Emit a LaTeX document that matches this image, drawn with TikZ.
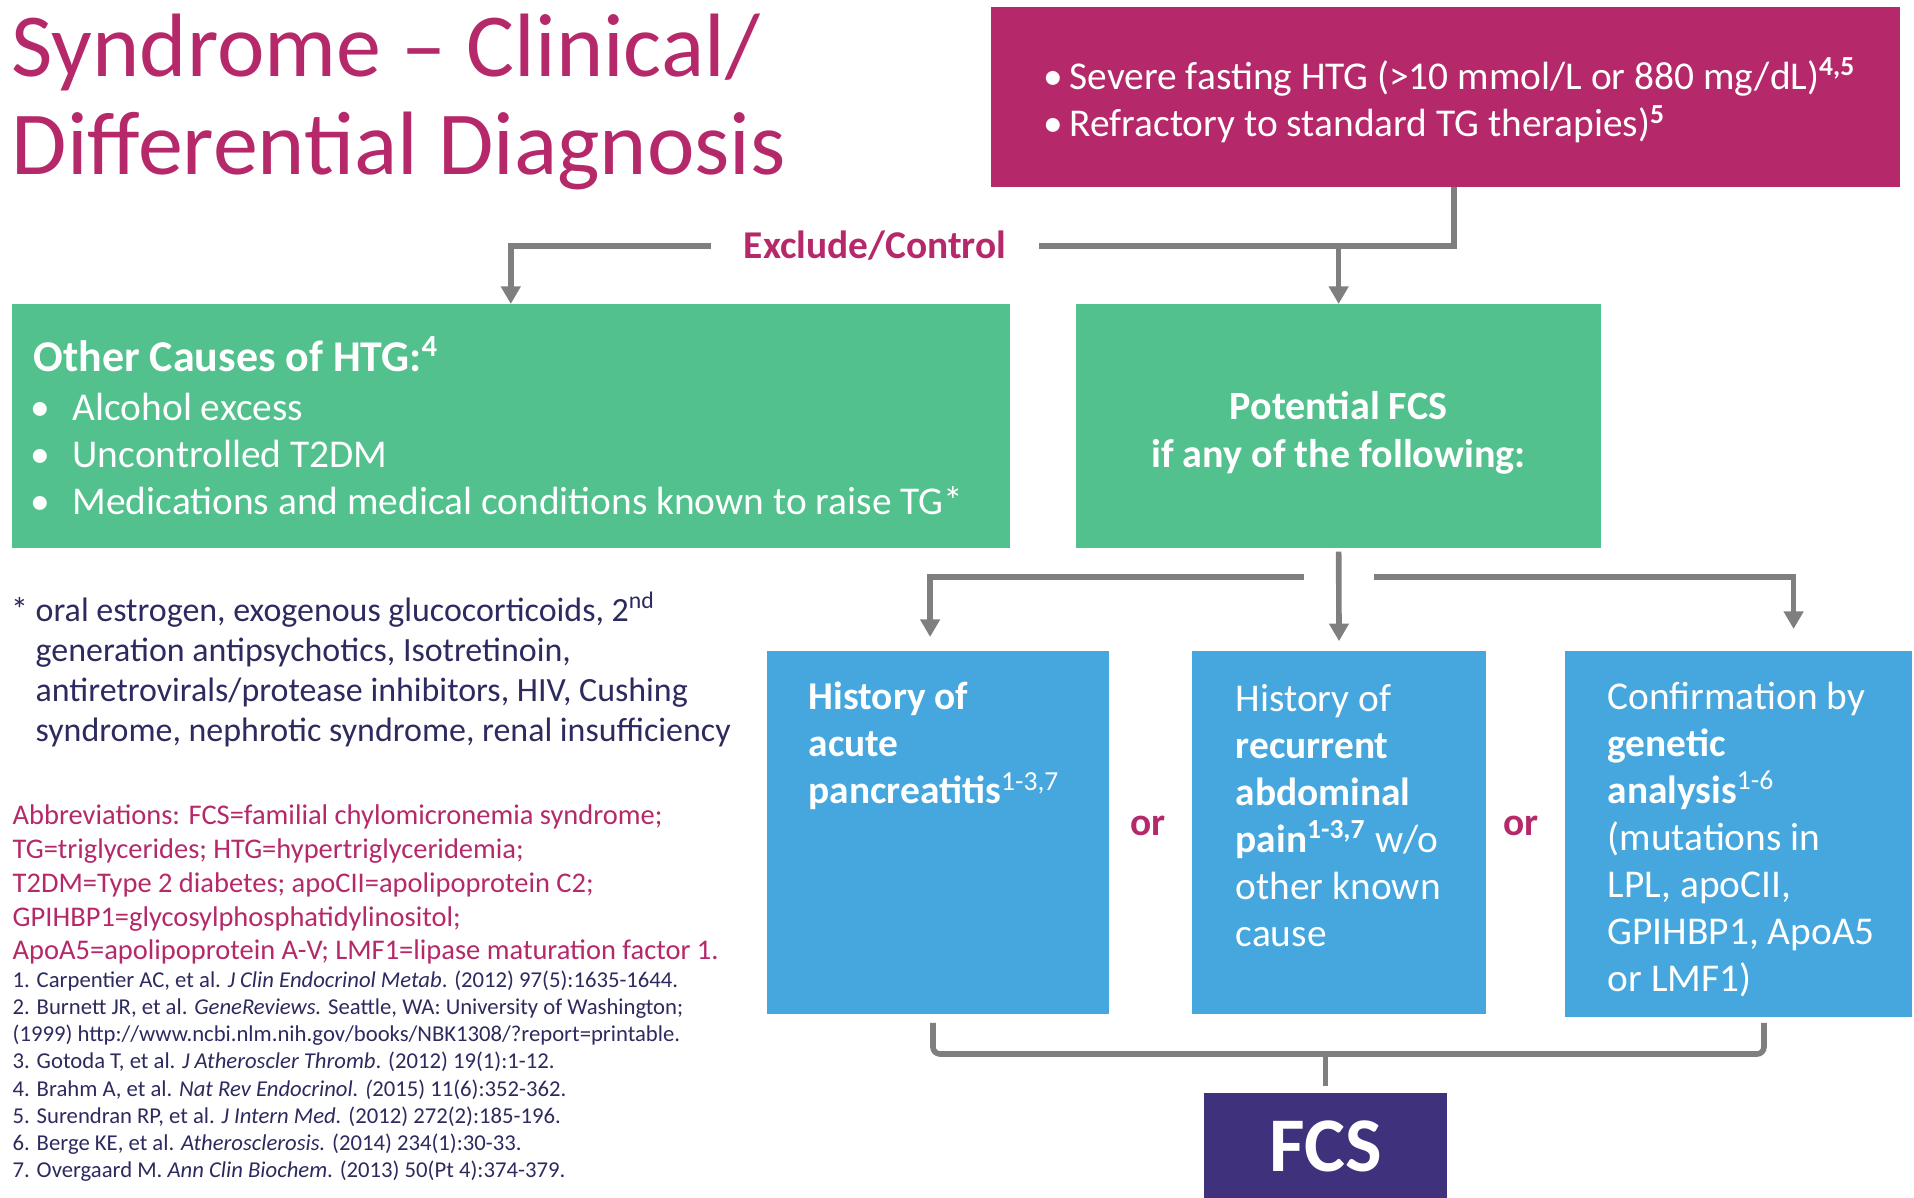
\documentclass[tikz,border=0pt]{standalone}
\usepackage{fontspec}
\setmainfont{Carlito}
\usetikzlibrary{arrows.meta,calc}
\definecolor{fcsmagenta}{HTML}{B5296A}
\definecolor{fcsgreen}{HTML}{52C18D}
\definecolor{fcsblue}{HTML}{45A7DD}
\definecolor{fcspurple}{HTML}{3F317C}
\definecolor{fcsnavy}{HTML}{2C2A5E}
\definecolor{fcsgray}{HTML}{7F7F7F}
\newcommand{\fsz}[2]{\fontsize{#1pt}{#2pt}\selectfont}
\newcommand{\bul}[1]{\llap{\textbullet\hspace{#1}}}

\begin{document}
\begin{tikzpicture}[x=0.01cm, y=-0.01cm, >={Triangle[length=5pt,width=5.4pt]},
    panel/.style={anchor=north west, inner sep=0pt, outer sep=0pt},
    link/.style={draw=fcsgray, line width=1.6pt},
    txt/.style={anchor=base west, inner sep=0pt, align=left},
    boxtxt/.style={txt, text=white, font=\fsz{11.2}{13.4}},
    orlabel/.style={anchor=base, text=fcsmagenta, font=\bfseries\fsz{11.2}{13}}]
  \useasboundingbox (0,0) rectangle (1914,1198);

  % title (multi-line nodes sit on the baseline of their last line)
  \node[txt, text=fcsmagenta, font=\fsz{25.6}{27.9}] (title) at (11,175)
    {Syndrome -- Clinical/\\Differential Diagnosis};

  % top criteria
  \node[panel, fill=fcsmagenta, minimum width=9.08cm, minimum height=1.80cm] (severe) at (991,7) {};
  \node[boxtxt] (severetxt) at (1069,137)
    {\bul{2pt}Severe fasting HTG (>10 mmol/L or 880 mg/dL)\textsuperscript{\bfseries 4,5}\\
     \bul{2pt}Refractory to standard TG therapies)\textsuperscript{\bfseries 5}};

  % green row
  \node[panel, fill=fcsgreen, minimum width=9.97cm, minimum height=2.44cm] (other) at (12,304) {};
  \node[txt, text=white, font=\bfseries\fsz{12.5}{14}] (othertitle) at (33,372)
    {Other Causes of HTG:\textsuperscript{4}};
  \node[boxtxt] (otherlist) at (72,515)
    {\bul{6.3pt}Alcohol excess\\
     \bul{6.3pt}Uncontrolled T2DM\\
     \bul{6.3pt}Medications and medical conditions known to raise TG*};
  \node[panel, fill=fcsgreen, minimum width=5.25cm, minimum height=2.44cm] (potential) at (1076,304) {};
  \node[anchor=base, inner sep=0pt, align=center, text=white, font=\bfseries\fsz{11.4}{13.7}]
    (potentialtxt) at (1338.5,468) {Potential FCS\\if any of the following:};

  \node[inner sep=0pt, minimum width=3.26cm, text=fcsmagenta, font=\bfseries\fsz{11.2}{13}]
    (exclude) at (875,246) {Exclude/Control};

  % blue row
  \node[panel, fill=fcsblue, minimum width=3.42cm, minimum height=3.63cm] (acute) at (767,651) {};
  \node[panel, fill=fcsblue, minimum width=2.94cm, minimum height=3.63cm] (abdominal) at (1192,651) {};
  \node[panel, fill=fcsblue, minimum width=3.47cm, minimum height=3.66cm] (genetic) at (1565,651) {};
  \node[boxtxt] (acutetxt) at (808,804)
    {\textbf{History of}\\\textbf{acute}\\\textbf{pancreatitis}\textsuperscript{1-3,7}};
  \node[boxtxt] (abdominaltxt) at (1235,947)
    {History of\\\textbf{recurrent}\\\textbf{abdominal}\\\textbf{pain\textsuperscript{1-3,7}} w/o\\other known\\cause};
  \node[boxtxt] (genetictxt) at (1607,992)
    {Confirmation by\\\textbf{genetic}\\\textbf{analysis}\textsuperscript{1-6}\\(mutations in\\LPL, apoCII,\\GPIHBP1, ApoA5\\or LMF1)};
  \node[orlabel] (orA) at (1148,836) {or};
  \node[orlabel] (orB) at (1521,836) {or};

  \node[panel, fill=fcspurple, minimum width=2.43cm, minimum height=1.06cm,
        text=white, font=\bfseries\fsz{22}{24}] (fcs) at (1204,1093) {FCS};

  % connectors
  \coordinate (split) at (1454,246);
  \draw[link] (severe.south -| split) -- (split) -- (exclude.east);
  \draw[link,->] (exclude.west) -| (other.north);
  \draw[link,->] (split -| potential.north) -- (potential.north);
  \draw[link,->, shorten <=1pt, shorten >=2.8pt] (potential.south) -- (abdominal.north);
  \coordinate (forkL) at (1304,577);
  \coordinate (forkR) at (1374,577);
  \draw[link,->] (forkL) -| ($(acute.north)+(-8,-14)$);
  \draw[link,->] (forkR) -| ($(genetic.north)+(55,-22)$);
  \coordinate (braceL) at (933,1023);
  \coordinate (braceR) at (1764,1023);
  \coordinate (braceM) at ($(fcs.north)+(0,-39)$);
  \draw[link, rounded corners=2pt] (braceL) |- (braceM) -| (braceR);
  \draw[link] (braceM) -- ($(fcs.north)+(0,-7)$);

  % notes
  \node[txt, text=fcsnavy, font=\fsz{9.65}{11.4}] (meds) at (35,742)
    {\llap{*\ }oral estrogen, exogenous glucocorticoids, 2\textsuperscript{nd}\\
     generation antipsychotics, Isotretinoin,\\
     antiretrovirals/protease inhibitors, HIV, Cushing\\
     syndrome, nephrotic syndrome, renal insufficiency};
  \node[txt, text=fcsmagenta, font=\fsz{8.1}{9.6}] (abbrev) at (12,960)
    {Abbreviations: FCS=familial chylomicronemia syndrome;\\
     TG=triglycerides; HTG=hypertriglyceridemia;\\
     T2DM=Type 2 diabetes; apoCII=apolipoprotein C2;\\
     GPIHBP1=glycosylphosphatidylinositol;\\
     ApoA5=apolipoprotein A-V; LMF1=lipase maturation factor 1.};
  \node[txt, text=fcsnavy, font=\fsz{6.45}{7.75}] (refs) at (12,1178)
    {1. Carpentier AC, et al. \textit{J Clin Endocrinol Metab}. (2012) 97(5):1635-1644.\\
     2. Burnett JR, et al. \textit{GeneReviews.} Seattle, WA: University of Washington;\\
     (1999) http://www.ncbi.nlm.nih.gov/books/NBK1308/?report=printable.\\
     3. Gotoda T, et al. \textit{J Atheroscler Thromb}. (2012) 19(1):1-12.\\
     4. Brahm A, et al. \textit{Nat Rev Endocrinol. (}2015) 11(6):352-362.\\
     5. Surendran RP, et al. \textit{J Intern Med.} (2012) 272(2):185-196.\\
     6. Berge KE, et al. \textit{Atherosclerosis.} (2014) 234(1):30-33.\\
     7. Overgaard M. \textit{Ann Clin Biochem}. (2013) 50(Pt 4):374-379.};
\end{tikzpicture}
\end{document}
